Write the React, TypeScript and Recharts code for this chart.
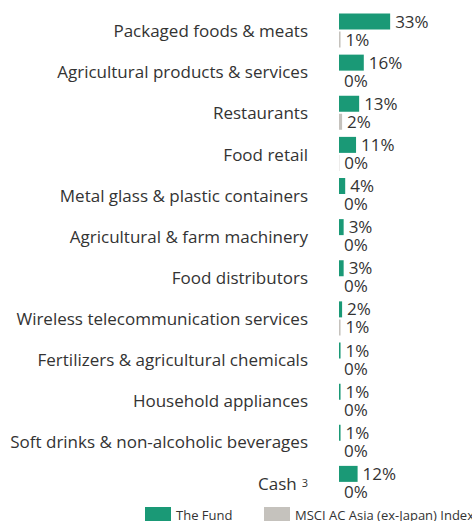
import React from 'react';
import { BarChart, Bar, XAxis, YAxis, Legend, LabelList } from 'recharts';

const categories = [
  'Packaged foods & meats',
  'Agricultural products & services',
  'Restaurants',
  'Food retail',
  'Metal glass & plastic containers',
  'Agricultural & farm machinery',
  'Food distributors',
  'Wireless telecommunication services',
  'Fertilizers & agricultural chemicals',
  'Household appliances',
  'Soft drinks & non-alcoholic beverages',
  'Cash',
];
const fundValues = [33, 16, 13, 11, 4, 3, 3, 2, 1, 1, 1, 12];
const indexValues = [1, 0, 2, 0.2, 0, 0, 0, 1, 0, 0, 0, 0];
const superscripts: Record<string, string> = { Cash: '3' };

const FUND_COLOR = '#1a9976';
const INDEX_COLOR = '#c5c2bd';
const TEXT_COLOR = '#333333';
const FONT = '"Open Sans", sans-serif';

const data = categories.map((name, i) => ({
  name,
  fund: fundValues[i],
  index: indexValues[i],
}));

const CategoryTick = (props: any) => {
  const { x, y, payload } = props;
  const sup = superscripts[payload.value];
  return (
    <text x={x - 31} y={y + 1} dy="0.36em" textAnchor="end" fill={TEXT_COLOR} fontSize={17} fontFamily={FONT}>
      {payload.value}
      {sup && (
        <tspan fontSize={11} dx={5} dy={-3}>
          {sup}
        </tspan>
      )}
    </text>
  );
};

const ValueLabel = (props: any) => {
  const { x, y, width, height, value } = props;
  return (
    <text
      x={x + (width || 0) + 5}
      y={y + height / 2}
      dy="0.36em"
      fill={TEXT_COLOR}
      fontSize={17}
      fontFamily={FONT}
    >
      {`${Math.round(Number(value))}%`}
    </text>
  );
};

const legendItems = [
  { label: 'The Fund', color: FUND_COLOR, width: 119 },
  { label: 'MSCI AC Asia (ex-Japan) Index', color: INDEX_COLOR, width: 208 },
];

const renderLegend = () => (
  <div style={{ display: 'flex', paddingLeft: 145, paddingTop: 4, fontFamily: FONT, fontSize: 13, color: TEXT_COLOR, whiteSpace: 'nowrap' }}>
    {legendItems.map((item) => (
      <div key={item.label} style={{ display: 'flex', alignItems: 'flex-start', width: item.width, flexShrink: 0 }}>
        <span style={{ display: 'inline-block', width: 26, height: 15, background: item.color, marginRight: 5, flexShrink: 0 }} />
        <span style={{ lineHeight: '15px', position: 'relative', top: 1 }}>{item.label}</span>
      </div>
    ))}
  </div>
);

export default function App() {
  return (
    <div style={{ position: 'absolute', left: 0, top: 0, width: 472, height: 521, overflow: 'hidden', background: '#fff' }}>
      <BarChart
        width={472}
        height={521}
        data={data}
        layout="vertical"
        margin={{ top: 9.5, right: 9, bottom: 0, left: 0 }}
        barSize={16}
        barGap={2}
      >
        <XAxis type="number" domain={[0, 80]} hide />
        <YAxis
          type="category"
          dataKey="name"
          width={339}
          interval={0}
          tickLine={false}
          axisLine={false}
          tickSize={0}
          tickMargin={0}
          tick={<CategoryTick />}
        />
        <Legend verticalAlign="bottom" height={18} content={renderLegend} />
        <Bar dataKey="fund" name="The Fund" fill={FUND_COLOR} isAnimationActive={false}>
          <LabelList dataKey="fund" content={<ValueLabel />} />
        </Bar>
        <Bar dataKey="index" name="MSCI AC Asia (ex-Japan) Index" fill={INDEX_COLOR} minPointSize={0.01} isAnimationActive={false}>
          <LabelList dataKey="index" content={<ValueLabel />} />
        </Bar>
      </BarChart>
    </div>
  );
}
